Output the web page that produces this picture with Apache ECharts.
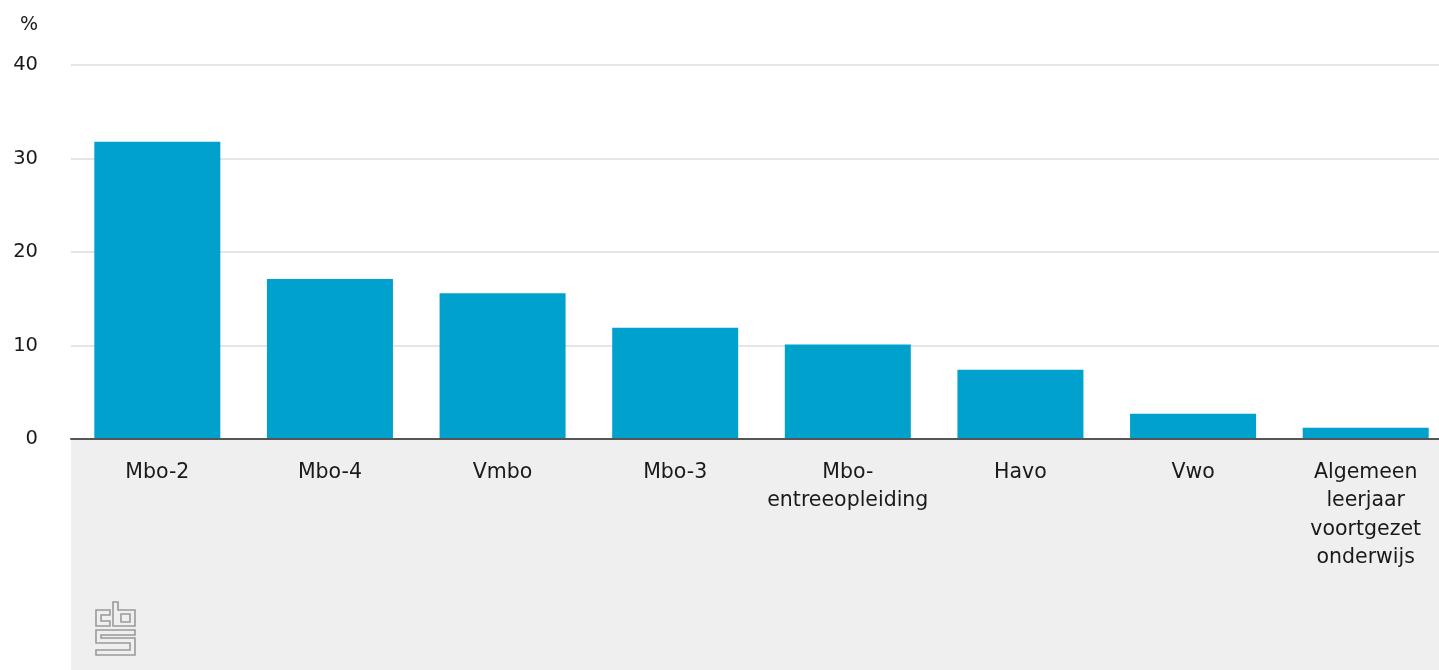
<!DOCTYPE html>
<html>
<head>
<meta charset="utf-8">
<script src="https://cdn.jsdelivr.net/npm/echarts@6/dist/echarts.min.js"></script>
<style>
html,body{margin:0;padding:0;background:#fff;}
#chart{width:1439px;height:670px;}
</style>
</head>
<body>
<div id="chart"></div>
<script>
const categories = ['Mbo-2', 'Mbo-4', 'Vmbo', 'Mbo-3', 'Mbo-\nentreeopleiding', 'Havo', 'Vwo', 'Algemeen\nleerjaar\nvoortgezet\nonderwijs'];
const values = [31.8, 17.1, 15.6, 11.9, 10.1, 7.4, 2.7, 1.2];
const yTicks = [0, 10, 20, 30, 40];

const chart = echarts.init(document.getElementById('chart'), null, {renderer: 'canvas'});
const FONT = 'DejaVu Sans';
const logoStyle = {fill: 'none', stroke: '#9a9a9a', lineWidth: 1.6};

chart.setOption({
  animation: false,
  backgroundColor: '#ffffff',
  title: {
    text: '%', left: 15, top: 11,
    textStyle: {fontFamily: FONT, fontSize: 19, fontWeight: 'normal', color: '#1a1a1a'}
  },
  grid: {left: 71, top: 65, width: 1381, height: 374, containLabel: false, outerBoundsMode: 'none'},
  graphic: [
    {type: 'rect', z: -10, silent: true, shape: {x: 71, y: 440, width: 1368, height: 230}, style: {fill: '#efefef'}},
    {type: 'polygon', z: 10, silent: true, shape: {points: [[110,610],[96,610],[96,626],[110,626],[110,621],[101,621],[101,615],[110,615]]}, style: logoStyle},
    {type: 'polygon', z: 10, silent: true, shape: {points: [[113,602],[118,602],[118,610],[135,610],[135,626],[113,626]]}, style: logoStyle},
    {type: 'rect', z: 10, silent: true, shape: {x: 121, y: 614, width: 9, height: 8}, style: logoStyle},
    {type: 'polygon', z: 10, silent: true, shape: {points: [[135,630],[96,630],[96,643],[130,643],[130,650],[96,650],[96,655],[135,655],[135,638],[101,638],[101,635],[135,635]]}, style: logoStyle}
  ],
  xAxis: {
    type: 'category',
    data: categories,
    axisLine: {show: true, lineStyle: {color: '#555', width: 2}},
    axisTick: {show: false},
    axisLabel: {
      interval: 0, margin: 19,
      fontFamily: FONT, fontSize: 20.5, color: '#1a1a1a', lineHeight: 28.5, align: 'center'
    },
    z: 5
  },
  yAxis: {
    type: 'value',
    min: yTicks[0], max: yTicks[yTicks.length - 1], interval: 10,
    axisLine: {show: false},
    axisTick: {show: false},
    axisLabel: {fontFamily: FONT, fontSize: 19.5, color: '#1a1a1a', margin: 33},
    splitLine: {lineStyle: {color: '#dcdcdc', width: 1.5}}
  },
  series: [{
    type: 'bar',
    data: values,
    barWidth: 126,
    itemStyle: {color: '#00a1cd'}
  }]
});
</script>
</body>
</html>
